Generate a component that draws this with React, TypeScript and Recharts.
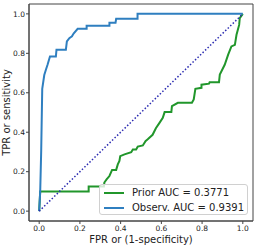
import { LineChart, Line, XAxis, YAxis, ReferenceArea } from "recharts";

// ROC curve points
const priorFpr = [0, 0.005, 0.243, 0.243, 0.318, 0.32, 0.332, 0.345, 0.358, 0.378, 0.386, 0.394, 0.398, 0.419, 0.452, 0.46, 0.476, 0.484, 0.509, 0.522, 0.533, 0.557, 0.573, 0.59, 0.607, 0.616, 0.649, 0.652, 0.681, 0.75, 0.759, 0.767, 0.797, 0.797, 0.834, 0.837, 0.883, 0.887, 0.911, 0.928, 0.944, 0.961, 0.969, 0.982, 0.985, 1.0];
const priorTpr = [0, 0.1, 0.1, 0.125, 0.125, 0.145, 0.162, 0.178, 0.209, 0.209, 0.237, 0.254, 0.279, 0.288, 0.299, 0.313, 0.313, 0.327, 0.333, 0.355, 0.364, 0.387, 0.42, 0.446, 0.473, 0.502, 0.502, 0.532, 0.549, 0.549, 0.566, 0.62, 0.625, 0.641, 0.646, 0.653, 0.653, 0.692, 0.742, 0.793, 0.835, 0.843, 0.894, 0.944, 0.978, 1.0];

const observFpr = [0, 0.005, 0.01, 0.015, 0.025, 0.033, 0.041, 0.053, 0.082, 0.085, 0.131, 0.136, 0.148, 0.161, 0.169, 0.189, 0.233, 0.233, 0.345, 0.345, 0.375, 0.378, 0.483, 0.483, 1.0];
const observTpr = [0, 0.1, 0.31, 0.62, 0.69, 0.717, 0.742, 0.784, 0.784, 0.818, 0.818, 0.86, 0.877, 0.886, 0.9, 0.924, 0.924, 0.94, 0.94, 0.955, 0.955, 0.975, 0.975, 1.0, 1.0];

const chanceFpr = [0, 1];
const chanceTpr = [0, 1];

const ticks = [0, 0.2, 0.4, 0.6, 0.8, 1.0];
const legendLabels = ["Prior AUC = 0.3771", "Observ. AUC = 0.9391"];

const GREEN = "#21962b";
const BLUE = "#2f7fc0";
const FONT = "'DejaVu Sans', sans-serif";

const toPoints = (xs: number[], ys: number[]) => xs.map((x, i) => ({ x, y: ys[i] }));

const prior = toPoints(priorFpr, priorTpr);
const observ = toPoints(observFpr, observTpr);
const chance = toPoints(chanceFpr, chanceTpr);

function LegendBox() {
  const colors = [GREEN, BLUE];
  return (
    <div
      style={{
        position: "absolute",
        left: 99,
        top: 184,
        width: 149,
        height: 31,
        boxSizing: "border-box",
        border: "1px solid #d0d0d0",
        borderRadius: 3,
        background: "rgba(255,255,255,0.8)",
        fontFamily: FONT,
        fontSize: 10,
        lineHeight: "12px",
        color: "#222"
      }}
    >
      {legendLabels.map((label, i) => (
        <div key={label} style={{ position: "absolute", left: 3, top: 2 + i * 15, height: 12, display: "flex", alignItems: "center", whiteSpace: "nowrap" }}>
          <svg width={22} height={4} style={{ marginRight: 7 }}>
            <line x1={1} y1={2} x2={21} y2={2} stroke={colors[i]} strokeWidth={2} />
          </svg>
          <span>{label}</span>
        </div>
      ))}
    </div>
  );
}

export default function App() {
  return (
    <div style={{ position: "fixed", left: 0, top: 0, width: 258, height: 247, background: "#fff" }}>
      <LineChart width={258} height={247} margin={{ top: 4, right: 5, left: 0, bottom: 0 }}>
        <XAxis
          dataKey="x"
          type="number"
          domain={[-0.05, 1.05]}
          ticks={ticks}
          allowDataOverflow
          tickFormatter={(v) => Number(v).toFixed(1)}
          height={26}
          tickSize={3}
          tickMargin={2}
          stroke="#444"
          tick={{ fill: "#222", fontSize: 7.5, fontFamily: FONT }}
          label={() => (
            <text x={141} y={243} textAnchor="middle" fontSize={10} fontFamily={FONT} fill="#222">
              FPR or (1-specificity)
            </text>
          )}
        />
        <YAxis
          dataKey="y"
          type="number"
          domain={[-0.05, 1.05]}
          ticks={ticks}
          allowDataOverflow
          tickFormatter={(v) => Number(v).toFixed(1)}
          width={29}
          tickSize={3}
          tickMargin={1}
          stroke="#444"
          tick={{ fill: "#222", fontSize: 7.5, fontFamily: FONT }}
          label={() => (
            <text x={10} y={112.5} transform="rotate(-90 10 112.5)" textAnchor="middle" fontSize={10} fontFamily={FONT} fill="#222">
              TPR or sensitivity
            </text>
          )}
        />
        <ReferenceArea x1={-0.05} x2={1.05} y1={-0.05} y2={1.05} fill="none" stroke="#444" strokeWidth={1} ifOverflow="visible" />
        <Line data={prior} dataKey="y" type="linear" stroke={GREEN} strokeWidth={2} dot={false} isAnimationActive={false} />
        <Line data={observ} dataKey="y" type="linear" stroke={BLUE} strokeWidth={2} dot={false} isAnimationActive={false} />
        <Line data={chance} dataKey="y" type="linear" stroke="#2a2ab0" strokeWidth={1.5} strokeDasharray="1.5 2" dot={false} isAnimationActive={false} />
      </LineChart>
      <LegendBox />
    </div>
  );
}
